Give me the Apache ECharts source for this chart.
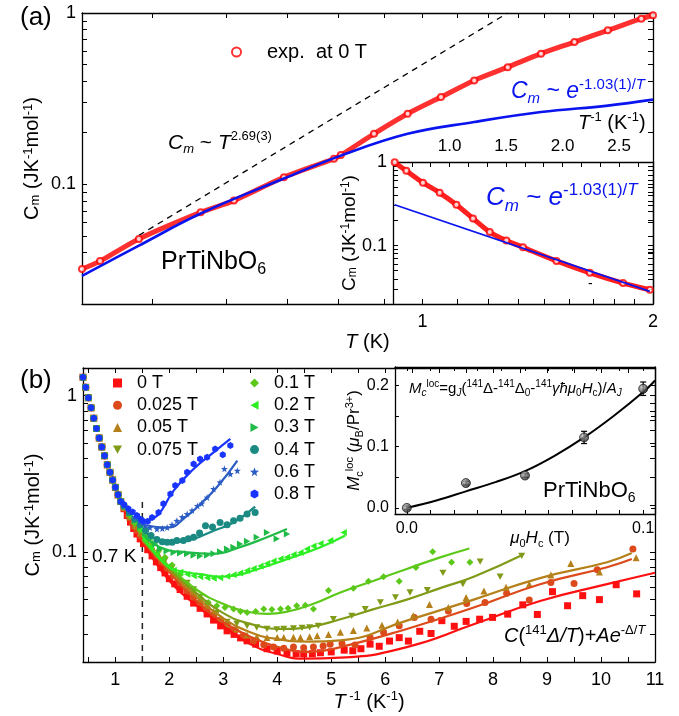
<!DOCTYPE html>
<html>
<head>
<meta charset="utf-8">
<script src="https://cdn.jsdelivr.net/npm/echarts@6.0.0/dist/echarts.min.js"></script>
<style>
html,body{margin:0;padding:0;background:#fff;}
#chart{width:679px;height:716px;}
</style>
</head>
<body>
<div id="chart"></div>
<script>
// ================= DATA : panel (a) =================
const tA   = [0.359,0.379,0.426,0.513,0.567,0.659,0.766,0.782,0.864,0.956,1.057,1.168,1.292,1.428,1.579,1.746,1.931,2.0];
const cmA  = [0.0320,0.0356,0.048,0.0686,0.0803,0.110,0.141,0.148,0.197,0.258,0.323,0.404,0.483,0.579,0.677,0.792,0.927,0.97];
const tFitA  = [0.359,0.426,0.513,0.659,0.782,0.956,1.168,1.428,1.746,2.0];
const cmFitA = [0.0292,0.0438,0.0675,0.108,0.147,0.197,0.231,0.264,0.288,0.312];
const tPow  = [0.426,1.292];
const cmPow = [0.0503,1.0];
// inset (a): Cm vs 1/T
const invTIn = [0.515,0.618,0.765,0.913,1.061,1.208,1.356,1.503,1.650,1.946,2.241,2.535,2.772];
const cmIn   = [0.99,0.784,0.566,0.428,0.308,0.211,0.145,0.115,0.0953,0.0656,0.0472,0.0356,0.0296];
const invTFitIn = [0.515,2.772];
const cmFitIn   = [0.308,0.0283];
// axis ticks / labels (a)
const xLabelsA = [1,2];
const xTicksA  = [0.444,0.554,0.666,0.777,0.89,1,1.109,1.219,1.332,1.444,1.554,1.669,1.781,1.89,2];
const yLabelsLog = [0.1,1];
const yTicksLog  = [0.02,0.03,0.04,0.05,0.06,0.07,0.08,0.09,0.1,0.2,0.3,0.4,0.5,0.6,0.7,0.8,0.9,1];
const xLabelsInA = [1.0,1.5,2.0,2.5];
const xTicksInA  = [0.667,0.833,1,1.167,1.333,1.5,1.667,1.833,2,2.167,2.333,2.5,2.667];

// ================= DATA : panel (b) =================
const xDescent  = [0.40,0.45,0.50,0.55,0.60,0.65,0.70,0.75,0.80,0.85,0.90,0.95,1.00,1.05,1.10];
const cmDescent = [1.31,1.13,0.97,0.836,0.718,0.617,0.537,0.471,0.413,0.362,0.324,0.290,0.260,0.233,0.211];

const x0T   = [1.16,1.22,1.28,1.34,1.40,1.46,1.52,1.60,1.68,1.76,1.84,1.92,2.00,2.10,2.20,2.33,2.45,2.57,2.70,2.82,2.95,3.07,3.20,3.32,3.44,3.60,3.81,4.00,4.18,4.35,4.49,4.65,4.80,5.00,5.24,5.40,5.55,5.72,5.89,6.08,6.26,6.43,6.64,6.85,7.05,7.28,7.50,7.75,7.99,8.27,8.55,8.82,9.10,9.38,9.66,9.97,10.28,10.66];
const cm0T  = [0.190,0.172,0.156,0.142,0.131,0.122,0.114,0.104,0.095,0.087,0.080,0.074,0.068,0.063,0.058,0.0525,0.0475,0.044,0.0405,0.037,0.034,0.0316,0.030,0.0285,0.0273,0.026,0.0243,0.0235,0.0229,0.0226,0.0225,0.0226,0.0229,0.0232,0.0238,0.0236,0.0243,0.026,0.0252,0.0272,0.0286,0.0272,0.0314,0.0304,0.0367,0.0338,0.0363,0.0375,0.0385,0.0404,0.0463,0.0402,0.0562,0.0457,0.053,0.050,0.0622,0.0544];
const x025T = [1.16,1.24,1.32,1.40,1.48,1.56,1.66,1.76,1.86,1.96,2.08,2.20,2.33,2.45,2.57,2.70,2.82,2.95,3.07,3.19,3.37,3.56,3.75,3.93,4.12,4.30,4.49,4.67,4.85,4.98,5.20,5.44,5.72,5.97,6.26,6.54,6.85,7.17,7.51,7.85,8.25,8.67,9.07,9.50,9.93,10.59];
const cm025T= [0.192,0.170,0.152,0.138,0.127,0.117,0.106,0.096,0.087,0.079,0.071,0.064,0.057,0.052,0.048,0.044,0.040,0.037,0.0345,0.032,0.0295,0.0272,0.0258,0.0249,0.0245,0.0249,0.0247,0.0249,0.0253,0.026,0.0262,0.0257,0.0287,0.031,0.034,0.0385,0.0375,0.0423,0.0473,0.048,0.0548,0.0497,0.0643,0.0633,0.0775,0.105];
const x05T  = [1.16,1.26,1.36,1.46,1.56,1.68,1.80,1.92,2.05,2.20,2.33,2.45,2.57,2.70,2.82,2.95,3.07,3.25,3.44,3.62,3.81,4.00,4.12,4.30,4.43,4.60,4.74,4.95,5.17,5.41,5.66,5.94,6.23,6.52,6.82,7.17,7.50,7.83,8.24,8.67,9.07,9.44,9.97,10.65];
const cm05T = [0.193,0.168,0.148,0.133,0.121,0.108,0.097,0.087,0.078,0.069,0.062,0.056,0.051,0.046,0.042,0.038,0.035,0.0325,0.0297,0.0290,0.0287,0.0287,0.0287,0.0288,0.0287,0.029,0.0294,0.030,0.031,0.0318,0.033,0.0343,0.036,0.0394,0.0465,0.0445,0.0516,0.0568,0.060,0.0627,0.0718,0.0851,0.075,0.0925];
const x075T = [1.16,1.26,1.36,1.46,1.56,1.68,1.80,1.92,2.05,2.20,2.33,2.45,2.57,2.70,2.88,3.07,3.25,3.44,3.62,3.81,3.99,4.12,4.30,4.46,4.60,4.76,5.04,5.38,5.63,5.91,6.19,6.46,6.78,7.07,7.44,7.76,8.13,8.53];
const cm075T= [0.194,0.170,0.150,0.135,0.123,0.110,0.099,0.089,0.080,0.071,0.064,0.058,0.052,0.047,0.041,0.036,0.0350,0.034,0.0332,0.0325,0.0323,0.0325,0.0327,0.033,0.0333,0.034,0.0375,0.0394,0.0435,0.048,0.0516,0.0555,0.0575,0.074,0.0627,0.0874,0.070,0.095];
const x1T   = [1.16,1.26,1.36,1.46,1.56,1.68,1.80,1.92,2.05,2.20,2.33,2.45,2.57,2.72,2.88,3.03,3.19,3.32,3.44,3.60,3.75,3.90,4.06,4.20,4.36,4.52,4.67,4.95,5.41,5.69,5.97,6.26,6.57,6.88,7.23,7.57];
const cm1T  = [0.195,0.172,0.153,0.138,0.126,0.114,0.103,0.093,0.083,0.072,0.063,0.057,0.0516,0.048,0.0457,0.0445,0.0435,0.042,0.0414,0.042,0.0435,0.0432,0.0435,0.044,0.0457,0.046,0.0435,0.0571,0.059,0.0654,0.070,0.0654,0.080,0.101,0.0866,0.0866];
const x2T   = [1.16,1.26,1.36,1.46,1.56,1.66,1.76,1.86,1.96,2.08,2.20,2.33,2.45,2.57,2.70,2.82,2.94,3.07,3.19,3.31,3.44,3.56,3.69,3.81,3.93,4.06,4.18,4.30,4.43,4.55,4.67,4.80,4.98,5.23];
const cm2T  = [0.196,0.175,0.158,0.140,0.123,0.108,0.097,0.088,0.081,0.077,0.0746,0.0725,0.071,0.070,0.069,0.0685,0.069,0.0705,0.072,0.074,0.0766,0.079,0.082,0.085,0.088,0.091,0.093,0.097,0.100,0.105,0.110,0.114,0.119,0.134];
const x3T   = [1.16,1.26,1.36,1.46,1.56,1.66,1.74,1.83,1.95,2.08,2.20,2.33,2.45,2.57,2.70,2.82,2.94,3.07,3.19,3.31,3.44,3.62,3.81,3.99,4.18];
const cm3T  = [0.197,0.178,0.160,0.146,0.133,0.122,0.113,0.105,0.102,0.100,0.099,0.098,0.096,0.095,0.096,0.098,0.101,0.105,0.108,0.113,0.118,0.125,0.134,0.122,0.131];
const x4T   = [1.16,1.26,1.36,1.46,1.56,1.66,1.77,1.87,1.96,2.05,2.14,2.26,2.35,2.45,2.56,2.67,2.80,2.94,3.07,3.19,3.31,3.44,3.59];
const cm4T  = [0.198,0.180,0.163,0.150,0.138,0.128,0.121,0.117,0.116,0.116,0.119,0.119,0.122,0.125,0.133,0.148,0.145,0.155,0.150,0.159,0.165,0.176,0.180];
const x6T   = [1.16,1.26,1.36,1.46,1.55,1.64,1.77,1.87,1.96,2.05,2.14,2.24,2.33,2.42,2.52,2.60,2.70,2.82,2.94,3.02,3.13,3.26];
const cm6T  = [0.200,0.183,0.168,0.156,0.148,0.144,0.141,0.142,0.144,0.150,0.159,0.168,0.176,0.185,0.198,0.205,0.224,0.254,0.280,0.341,0.316,0.332];
const x8T   = [1.16,1.24,1.32,1.40,1.47,1.52,1.60,1.68,1.80,1.89,2.02,2.11,2.24,2.33,2.45,2.57,2.70,2.85,2.99,3.13];
const cm8T  = [0.202,0.190,0.181,0.172,0.163,0.158,0.158,0.167,0.180,0.204,0.236,0.267,0.287,0.324,0.366,0.394,0.404,0.457,0.420,0.480];

// model curves C(141Δ/T)+Ae^-Δ/T
const xf0T   = [1.5,2.0,2.5,3.0,3.5,4.0,4.5,5.17,6.40,7.64,8.87,10.11,11.0];
const cmf0T  = [0.118,0.066,0.046,0.034,0.026,0.0225,0.021,0.0213,0.0249,0.0348,0.049,0.0627,0.0742];
const xf025T = [1.5,2.0,2.5,3.0,3.5,4.0,4.6,5.17,6.40,7.64,8.87,10.11,10.57];
const cmf025T= [0.119,0.075,0.049,0.036,0.029,0.0250,0.0232,0.0249,0.0325,0.0445,0.0627,0.0804,0.0907];
const xf05T  = [1.5,2.0,2.5,3.0,3.5,4.0,4.6,5.17,6.40,7.64,8.87,10.11,10.57];
const cmf05T = [0.120,0.077,0.052,0.038,0.031,0.0280,0.0270,0.0275,0.0367,0.050,0.0686,0.0866,0.099];
const xf075T = [1.5,2.0,2.5,3.0,3.5,4.1,4.6,5.17,5.79,6.40,7.02,7.64,8.55];
const cmf075T= [0.121,0.079,0.055,0.041,0.035,0.0325,0.0335,0.0375,0.0435,0.050,0.0592,0.070,0.0966];
const xf1T   = [1.5,2.0,2.5,3.0,3.5,3.81,4.2,4.67,5.17,5.79,6.40,7.02,7.56];
const cmf1T  = [0.122,0.081,0.058,0.047,0.0415,0.0405,0.042,0.047,0.0555,0.066,0.0784,0.093,0.106];
const xf2T   = [1.5,1.96,2.3,2.57,2.94,3.2,3.56,4.18,4.80,5.26];
const cmf2T  = [0.128,0.082,0.075,0.0727,0.070,0.071,0.0766,0.0906,0.108,0.128];
const xf3T   = [1.5,1.83,2.33,2.82,3.31,3.81,4.18];
const cmf3T  = [0.132,0.108,0.100,0.098,0.108,0.125,0.141];
const xf4T   = [1.5,1.70,2.08,2.45,2.82,3.19,3.59];
const cmf4T  = [0.140,0.125,0.116,0.122,0.1375,0.155,0.196];
const xf6T   = [1.5,1.96,2.33,2.57,2.88,3.26];
const cmf6T  = [0.150,0.144,0.171,0.203,0.26,0.385];
const xf8T   = [1.5,1.77,2.08,2.45,2.82,3.13];
const cmf8T  = [0.158,0.171,0.248,0.34,0.434,0.529];
const xDash07K  = [1.5,1.5];
const cmDash07K = [0.02,0.21];
// axis ticks / labels (b)
const xLabelsB = [1,2,3,4,5,6,7,8,9,10,11];
const xTicksB  = [0.5,1,1.5,2,2.5,3,3.5,4,4.5,5,5.5,6,6.5,7,7.5,8,8.5,9,9.5,10,10.5,11];
// inset (b): Mc^loc vs mu0 Hc
const hcIn   = [0,0.025,0.05,0.075,0.1];
const mlocIn = [0,0.0405,0.0528,0.115,0.1945];
const mErrIn = [0.003,0.003,0.003,0.010,0.011];
const hcFit  = [0,0.0125,0.025,0.0375,0.05,0.0625,0.075,0.0875,0.1,0.105];
const mFit   = [0,0.012,0.027,0.042,0.06,0.085,0.115,0.15,0.189,0.208];
const xLabelsInB = [0,0.1];
const xTicksInB  = [0,0.01,0.02,0.03,0.04,0.05,0.06,0.07,0.08,0.09,0.1];
const yLabelsInB = [0,0.1,0.2];
const yTicksInB  = [0,0.05,0.1,0.15,0.2];

// ================= STYLE / BUILD =================
const FF = '"Liberation Sans", Arial, sans-serif';
const zip = (a, b) => a.map((v, i) => [v, b[i]]);
function rich(fs, color) {
  const s = Math.round(fs * 0.64);
  const b = {color: color, fontFamily: FF};
  return {
    n:    Object.assign({fontSize: fs, lineHeight: Math.round(fs * 1.25)}, b),
    i:    Object.assign({fontSize: fs, lineHeight: Math.round(fs * 1.25), fontStyle: 'italic'}, b),
    sup:  Object.assign({fontSize: s, lineHeight: s + 1, verticalAlign: 'top'}, b),
    supi: Object.assign({fontSize: s, lineHeight: s + 1, verticalAlign: 'top', fontStyle: 'italic'}, b),
    sub:  Object.assign({fontSize: s, lineHeight: s + 1, verticalAlign: 'bottom'}, b),
    subi: Object.assign({fontSize: s, lineHeight: s + 1, verticalAlign: 'bottom', fontStyle: 'italic'}, b)
  };
}
function gtext(x, y, text, fs, color) {
  return {type: 'text', x: x, y: y, z: 100, silent: true,
    style: {text: text, rich: rich(fs, color), fontSize: fs, fontFamily: FF, fill: color,
            align: 'left', verticalAlign: 'middle'}};
}
const LINE = {show: true, onZero: false, lineStyle: {color: '#000', width: 1.3}};
function tick(vals, len) {
  return {show: true, inside: true, length: len || 5, customValues: vals, lineStyle: {color: '#000', width: 1}};
}
function ax(o) {
  return Object.assign({
    splitLine: {show: false}, minorTick: {show: false}, minorSplitLine: {show: false},
    axisLine: LINE, nameMoveOverlap: false, nameTextStyle: {fontFamily: FF, color: '#000'}
  }, o);
}
const noLabel = {show: false};
function labels(vals, fs, fmt, margin) {
  return {show: true, customValues: vals, fontSize: fs, fontFamily: FF, color: '#000', margin: margin || 8,
          formatter: fmt || (v => String(v))};
}

const xAxis = [
  ax({type: 'log', gridIndex: 0, position: 'bottom', min: 0.359, max: 2.0,
      axisTick: tick(xTicksA), axisLabel: labels(xLabelsA, 18, null, 9),
      name: '{i|T} (K)', nameLocation: 'middle', nameGap: 26,
      nameTextStyle: {rich: rich(20, '#000'), fontSize: 20, fontFamily: FF}}),
  ax({type: 'log', gridIndex: 0, position: 'top', min: 0.359, max: 2.0,
      axisTick: tick(xTicksA), axisLabel: noLabel}),
  ax({type: 'value', gridIndex: 1, position: 'top', min: 0.5, max: 2.8,
      axisTick: tick(xTicksInA), axisLabel: labels(xLabelsInA, 17, v => v.toFixed(1), 7)}),
  ax({type: 'value', gridIndex: 2, position: 'bottom', min: 0.4, max: 11,
      axisTick: tick(xTicksB), axisLabel: labels(xLabelsB, 18, null, 9),
      name: '{i|T}{sup| -1} (K{sup|-1})', nameLocation: 'middle', nameGap: 28,
      nameTextStyle: {rich: rich(20, '#000'), fontSize: 20, fontFamily: FF}}),
  ax({type: 'value', gridIndex: 2, position: 'top', min: 0.4, max: 11,
      axisTick: tick(xTicksB), axisLabel: noLabel}),
  ax({type: 'value', gridIndex: 3, position: 'bottom', min: -0.005, max: 0.105,
      axisTick: tick(xTicksInB, 4), axisLabel: labels(xLabelsInB, 16, v => v.toFixed(1), 7),
      name: '{i|μ}{sub|0}{i|H}{sub|c} (T)', nameLocation: 'middle', nameGap: 14,
      nameTextStyle: {rich: rich(17, '#000'), fontSize: 17, fontFamily: FF, padding: [0, 0, 0, 30]}}),
  ax({type: 'value', gridIndex: 3, position: 'top', min: -0.005, max: 0.105,
      axisTick: tick(xTicksInB, 4), axisLabel: noLabel})
];

const yAxis = [
  ax({type: 'log', gridIndex: 0, position: 'left', min: 0.02, max: 1,
      axisTick: tick(yTicksLog), axisLabel: labels(yLabelsLog, 18, null, 6),
      name: 'C{sub|m} (JK{sup|-1}mol{sup|-1})', nameLocation: 'middle', nameRotate: 90, nameGap: 40,
      nameTextStyle: {rich: rich(20, '#000'), fontSize: 20, fontFamily: FF}}),
  ax({type: 'log', gridIndex: 0, position: 'right', min: 0.02, max: 1,
      axisTick: tick(yTicksLog), axisLabel: noLabel}),
  ax({type: 'log', gridIndex: 1, position: 'left', min: 0.02, max: 1,
      axisTick: tick(yTicksLog), axisLabel: labels(yLabelsLog, 18, null, 6),
      name: 'C{sub|m} (JK{sup|-1}mol{sup|-1})', nameLocation: 'middle', nameRotate: 90, nameGap: 34,
      nameTextStyle: {rich: rich(19, '#000'), fontSize: 19, fontFamily: FF}}),
  ax({type: 'log', gridIndex: 1, position: 'right', min: 0.02, max: 1,
      axisTick: tick(yTicksLog), axisLabel: noLabel}),
  ax({type: 'log', gridIndex: 2, position: 'left', min: 0.02, max: 1.5,
      axisTick: tick(yTicksLog), axisLabel: labels(yLabelsLog, 18, null, 6),
      name: 'C{sub|m} (JK{sup|-1}mol{sup|-1})', nameLocation: 'middle', nameRotate: 90, nameGap: 40,
      nameTextStyle: {rich: rich(20, '#000'), fontSize: 20, fontFamily: FF}}),
  ax({type: 'log', gridIndex: 2, position: 'right', min: 0.02, max: 1.5,
      axisTick: tick(yTicksLog), axisLabel: noLabel}),
  ax({type: 'value', gridIndex: 3, position: 'left', min: -0.01, max: 0.23,
      axisTick: tick(yTicksInB, 4), axisLabel: labels(yLabelsInB, 16, v => v.toFixed(1), 6),
      name: '{i|M}{sub|c}{sup|loc} ({i|μ}{sub|B}/Pr{sup|3+})', nameLocation: 'middle', nameRotate: 90, nameGap: 30,
      nameTextStyle: {rich: rich(17, '#000'), fontSize: 17, fontFamily: FF}}),
  ax({type: 'value', gridIndex: 3, position: 'right', min: -0.01, max: 0.23,
      axisTick: tick(yTicksInB, 4), axisLabel: noLabel})
];

const series = [];
// ---- panel (a)
series.push({type: 'line', xAxisIndex: 0, yAxisIndex: 0, data: zip(tPow, cmPow), showSymbol: false, silent: true,
  lineStyle: {color: '#000', width: 1.3, type: [6, 5]}, z: 3});
series.push({type: 'line', xAxisIndex: 0, yAxisIndex: 0, data: zip(tA, cmA), showSymbol: false, smooth: 0.3, silent: true,
  lineStyle: {color: '#ff3030', width: 5}, z: 4});
series.push({type: 'line', xAxisIndex: 0, yAxisIndex: 0, data: zip(tFitA, cmFitA), showSymbol: false, smooth: 0.4, silent: true,
  lineStyle: {color: '#0a14ee', width: 2.6}, z: 6});
series.push({name: 'exp.  at 0 T', type: 'scatter', xAxisIndex: 0, yAxisIndex: 0, data: zip(tA, cmA),
  symbol: 'emptyCircle', symbolSize: 6, itemStyle: {color: '#ff0000', borderWidth: 1}, z: 5});
// ---- inset (a)
series.push({type: 'line', xAxisIndex: 2, yAxisIndex: 2, data: zip(invTIn, cmIn), showSymbol: false, smooth: 0.3, silent: true,
  lineStyle: {color: '#ff2020', width: 5}, z: 4});
series.push({type: 'scatter', xAxisIndex: 2, yAxisIndex: 2, data: zip(invTIn, cmIn), silent: true,
  symbol: 'emptyCircle', symbolSize: 6, itemStyle: {color: '#ff0000', borderWidth: 1}, z: 5});
series.push({type: 'line', xAxisIndex: 2, yAxisIndex: 2, data: zip(invTFitIn, cmFitIn), showSymbol: false, silent: true,
  lineStyle: {color: '#0a14ee', width: 1.8}, z: 6});

// ---- panel (b)
const namesB   = ['0 T','0.025 T','0.05 T','0.075 T','0.1 T','0.2 T','0.3 T','0.4 T','0.6 T','0.8 T'];
const colorsB  = ['#ff1010','#dc4a1c','#b5801a','#7f9b18','#5cc81a','#2cee22','#20bb46','#1a8a82','#2a5cc4','#1a34ff'];
const symbolsB = ['rect','circle','triangle','path://M0,0L10,0L5,9Z','diamond',
                  'path://M9,0L9,10L0,5Z','path://M0,0L0,10L9,5Z','circle',
                  'path://M5,0L6.2,3.6L10,3.8L7,6.2L8.1,10L5,7.8L1.9,10L3,6.2L0,3.8L3.8,3.6Z',
                  'path://M5,0L9.33,2.5L9.33,7.5L5,10L0.67,7.5L0.67,2.5Z'];
const dataXB  = [x0T, x025T, x05T, x075T, x1T, x2T, x3T, x4T, x6T, x8T];
const dataYB  = [cm0T, cm025T, cm05T, cm075T, cm1T, cm2T, cm3T, cm4T, cm6T, cm8T];
const fitXB   = [xf0T, xf025T, xf05T, xf075T, xf1T, xf2T, xf3T, xf4T, xf6T, xf8T];
const fitYB   = [cmf0T, cmf025T, cmf05T, cmf075T, cmf1T, cmf2T, cmf3T, cmf4T, cmf6T, cmf8T];
const descent = zip(xDescent, cmDescent);
series.push({type: 'line', xAxisIndex: 3, yAxisIndex: 4, data: zip(xDash07K, cmDash07K), showSymbol: false, silent: true,
  lineStyle: {color: '#222', width: 1.5, type: [6, 5]}, z: 2});
for (let k = 0; k < 10; k++) {
  series.push({name: namesB[k], type: 'scatter', xAxisIndex: 3, yAxisIndex: 4,
    data: descent.concat(zip(dataXB[k], dataYB[k])),
    symbol: symbolsB[k], symbolSize: 7, symbolKeepAspect: true,
    itemStyle: {color: colorsB[k], opacity: 1}, z: 3});
}
for (let k = 0; k < 10; k++) {
  series.push({type: 'line', xAxisIndex: 3, yAxisIndex: 4, data: zip(fitXB[k], fitYB[k]), smooth: 0.5,
    showSymbol: false, silent: true, lineStyle: {color: colorsB[k], width: 2.2}, z: 4});
}
// ---- inset (b)
series.push({type: 'line', xAxisIndex: 5, yAxisIndex: 6, data: zip(hcFit, mFit), smooth: 0.4, showSymbol: false, silent: true,
  lineStyle: {color: '#000', width: 2}, z: 3});
series.push({type: 'custom', xAxisIndex: 5, yAxisIndex: 6, silent: true, z: 4,
  data: hcIn.map((h, i) => [h, mlocIn[i], mErrIn[i]]),
  renderItem: function (params, api) {
    const x = api.value(0), y = api.value(1), e = api.value(2);
    const p1 = api.coord([x, y - e]), p2 = api.coord([x, y + e]);
    const st = {stroke: '#000', lineWidth: 1.2};
    return {type: 'group', children: [
      {type: 'line', shape: {x1: p1[0], y1: p1[1], x2: p2[0], y2: p2[1]}, style: st},
      {type: 'line', shape: {x1: p1[0] - 3, y1: p1[1], x2: p1[0] + 3, y2: p1[1]}, style: st},
      {type: 'line', shape: {x1: p2[0] - 3, y1: p2[1], x2: p2[0] + 3, y2: p2[1]}, style: st}
    ]};
  }});
series.push({type: 'scatter', xAxisIndex: 5, yAxisIndex: 6, data: zip(hcIn, mlocIn), symbol: 'circle', symbolSize: 9, silent: true, z: 5,
  itemStyle: {borderColor: '#000', borderWidth: 0.8,
    color: {type: 'radial', x: 0.35, y: 0.35, r: 0.75, colorStops: [{offset: 0, color: '#bbbbbb'}, {offset: 1, color: '#111111'}]}}});

const legendCommon = {orient: 'vertical', itemWidth: 9, itemHeight: 9, itemGap: 4.2, selectedMode: false,
  textStyle: {fontSize: 18, fontFamily: FF, color: '#000', padding: [0, 0, 0, 10]}, padding: 0};

const option = {
  animation: false,
  backgroundColor: '#fff',
  grid: [
    {left: 82, top: 13, width: 571, height: 291},
    {left: 393, top: 162, width: 260, height: 142},
    {left: 83, top: 368, width: 572, height: 294},
    {left: 395, top: 367, width: 260, height: 147}
  ],
  xAxis: xAxis,
  yAxis: yAxis,
  legend: [
    Object.assign({}, legendCommon, {left: 231, top: 42, itemWidth: 9, itemHeight: 9, data: ['exp.  at 0 T'],
      textStyle: {fontSize: 20, fontFamily: FF, color: '#000', padding: [0, 0, 0, 21]}}),
    Object.assign({}, legendCommon, {left: 113, top: 374, data: namesB.slice(0, 4)}),
    Object.assign({}, legendCommon, {left: 250, top: 374, data: namesB.slice(4)})
  ],
  series: series,
  graphic: [
    gtext(20, 18, '{n|(a)}', 26, '#000'),
    gtext(168, 143, '{i|C}{subi|m} ~ {i|T}{sup|2.69(3)}', 21, '#000'),
    gtext(511, 92, '{i|C}{subi|m} ~ {i|e}{sup|-1.03(1)/}{supi|T}', 23, '#0a14ee'),
    gtext(578, 123, '{i|T}{sup|-1} (K{sup|-1})', 20, '#000'),
    gtext(161, 262, '{n|PrTiNbO}{sub|6}', 25, '#000'),
    gtext(486, 198, '{i|C}{subi|m} ~ {i|e}{sup|-1.03(1)/}{supi|T}', 26, '#0a14ee'),
    gtext(588, 284, '{n|-}', 14, '#000'),
    gtext(20, 381, '{n|(b)}', 26, '#000'),
    gtext(92, 557, '{n|0.7 K}', 19, '#000'),
    gtext(504, 636, '{i|C}{n|(}{sup|141}{i|Δ/T}{n|)+}{i|Ae}{sup|-Δ/}{supi|T}', 20, '#000'),
    gtext(409, 389, '{i|M}{subi|c}{sup|loc}{n|=g}{subi|J}{n|(}{sup|141}{n|Δ-}{sup|141}{n|Δ}{sub|0}{n|-}{sup|141}{i|γħμ}{sub|0}{i|H}{sub|c}{n|)/}{i|A}{subi|J}', 15, '#000'),
    gtext(543, 491, '{n|PrTiNbO}{sub|6}', 22, '#000')
  ]
};

const chart = echarts.init(document.getElementById('chart'), null, {renderer: 'canvas'});
chart.setOption(option);
</script>
</body>
</html>
